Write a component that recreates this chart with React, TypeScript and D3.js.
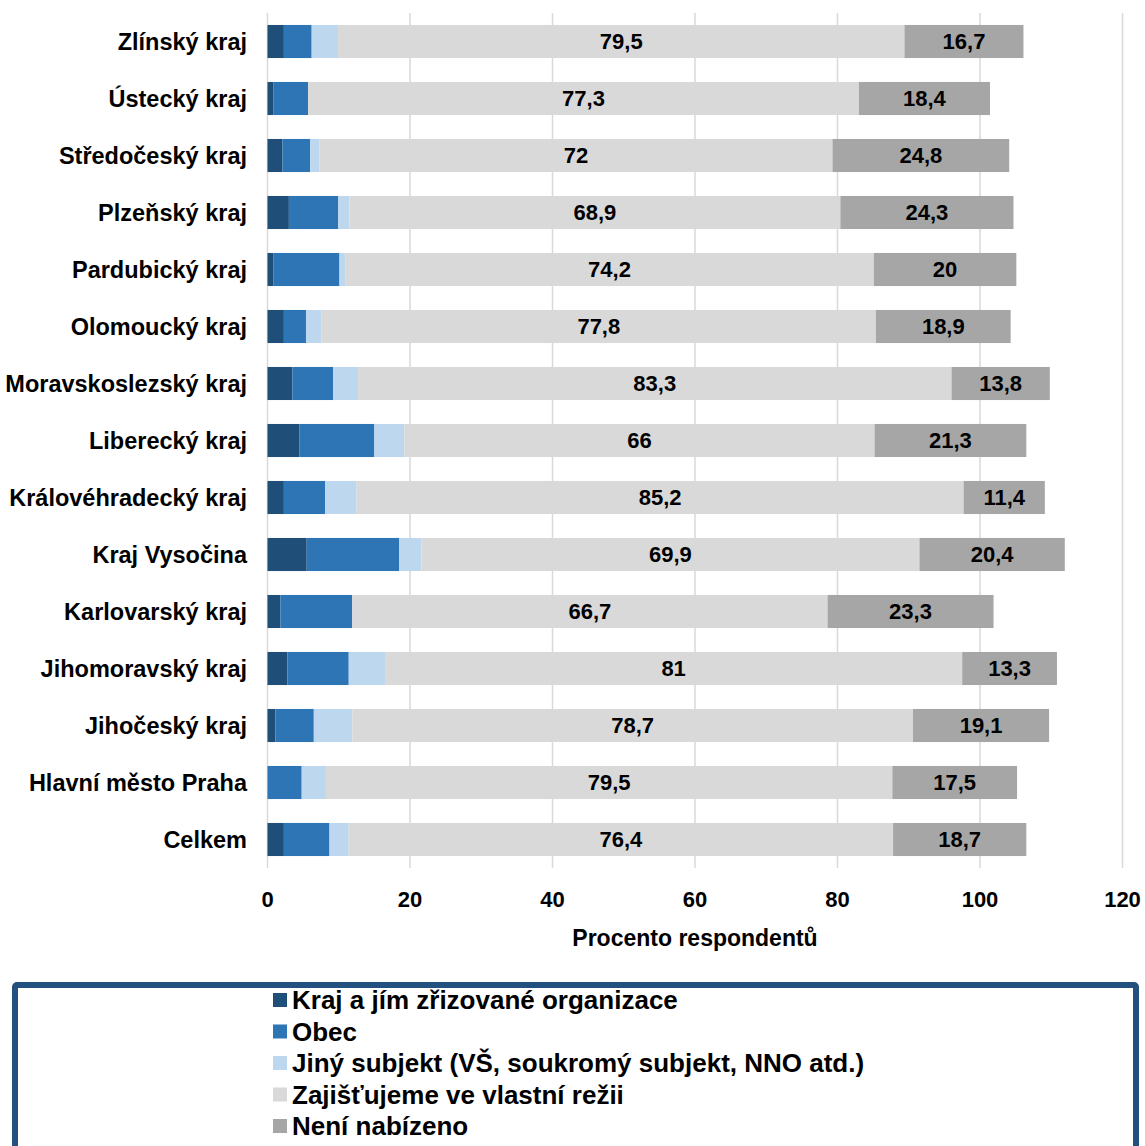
import React, {useEffect, useRef} from 'react';
import * as d3 from 'd3';

const regions = [
  'Zlínský kraj', 'Ústecký kraj', 'Středočeský kraj', 'Plzeňský kraj',
  'Pardubický kraj', 'Olomoucký kraj', 'Moravskoslezský kraj', 'Liberecký kraj',
  'Královéhradecký kraj', 'Kraj Vysočina', 'Karlovarský kraj', 'Jihomoravský kraj',
  'Jihočeský kraj', 'Hlavní město Praha', 'Celkem'
];

const seriesNames = [
  'Kraj a jím zřizované organizace',
  'Obec',
  'Jiný subjekt (VŠ, soukromý subjekt, NNO atd.)',
  'Zajišťujeme ve vlastní režii',
  'Není nabízeno'
];

const kraj = [2.3, 0.8, 2.1, 3.0, 0.8, 2.3, 3.5, 4.5, 2.3, 5.5, 1.8, 2.8, 1.1, 0, 2.3];
const obec = [3.9, 4.9, 3.9, 6.9, 9.3, 3.1, 5.7, 10.5, 5.8, 13.0, 10.1, 8.6, 5.4, 4.8, 6.4];
const jiny = [3.7, 0, 1.3, 1.6, 0.8, 2.2, 3.5, 4.2, 4.4, 3.1, 0, 5.1, 5.4, 3.4, 2.7];
const vlastni = [79.5, 77.3, 72, 68.9, 74.2, 77.8, 83.3, 66, 85.2, 69.9, 66.7, 81, 78.7, 79.5, 76.4];
const neni = [16.7, 18.4, 24.8, 24.3, 20, 18.9, 13.8, 21.3, 11.4, 20.4, 23.3, 13.3, 19.1, 17.5, 18.7];

const xTicks = [0, 20, 40, 60, 80, 100, 120];
const colors = ['#1F4E79', '#2E75B6', '#BDD7EE', '#D9D9D9', '#A6A6A6'];
const labelled = [false, false, false, true, true];

const W = 1145;
const H = 1146;
const FONT = '"Liberation Sans", Arial, sans-serif';

export default function App() {
  const ref = useRef<SVGSVGElement>(null);

  useEffect(() => {
    const svg = d3.select(ref.current);
    svg.selectAll('*').remove();

    const x = d3.scaleLinear().domain([0, 120]).range([267.5, 1122.5]);
    const y = d3.scaleBand<string>()
      .domain(regions)
      .range([13, 868])
      .paddingInner(0.42)
      .paddingOuter(0.21);

    const seriesValues = [kraj, obec, jiny, vlastni, neni];
    const rows = regions.map((r, i) => {
      const row: any = {region: r};
      seriesNames.forEach((s, k) => { row[s] = seriesValues[k][i]; });
      return row;
    });
    const stacked = d3.stack().keys(seriesNames)(rows);

    // gridlines
    svg.append('g')
      .selectAll('line')
      .data(xTicks)
      .enter().append('line')
      .attr('x1', d => x(d)).attr('x2', d => x(d))
      .attr('y1', 13).attr('y2', 868)
      .attr('stroke', '#D9D9D9')
      .attr('stroke-width', 1.5);

    stacked.forEach((layer, k) => {
      const g = svg.append('g');
      g.selectAll('rect')
        .data(layer)
        .enter().append('rect')
        .attr('x', d => x(d[0]))
        .attr('y', (d, i) => y(regions[i])!)
        .attr('width', d => Math.max(0, x(d[1]) - x(d[0])))
        .attr('height', y.bandwidth())
        .attr('fill', colors[k]);

      if (labelled[k]) {
        g.selectAll('text')
          .data(layer)
          .enter().append('text')
          .attr('x', d => (x(d[0]) + x(d[1])) / 2)
          .attr('y', (d, i) => y(regions[i])! + y.bandwidth() / 2)
          .attr('dy', '0.36em')
          .attr('text-anchor', 'middle')
          .style('font-family', FONT)
          .style('font-weight', 'bold')
          .style('font-size', '22px')
          .attr('fill', '#000')
          .text(d => String(d[1] - d[0] > 0 ? +(d[1] - d[0]).toFixed(1) : '').replace('.', ','));
      }
    });

    // category labels
    svg.append('g')
      .selectAll('text')
      .data(regions)
      .enter().append('text')
      .attr('x', 247)
      .attr('y', d => y(d)! + y.bandwidth() / 2)
      .attr('dy', '0.36em')
      .attr('text-anchor', 'end')
      .style('font-family', FONT)
      .style('font-weight', 'bold')
      .style('font-size', '23.5px')
      .text(d => d);

    // x tick labels
    svg.append('g')
      .selectAll('text')
      .data(xTicks)
      .enter().append('text')
      .attr('x', d => x(d))
      .attr('y', 899)
      .attr('dy', '0.36em')
      .attr('text-anchor', 'middle')
      .style('font-family', FONT)
      .style('font-weight', 'bold')
      .style('font-size', '22px')
      .text(d => d);

    svg.append('text')
      .attr('x', (x(0) + x(120)) / 2)
      .attr('y', 938)
      .attr('dy', '0.36em')
      .attr('text-anchor', 'middle')
      .style('font-family', FONT)
      .style('font-weight', 'bold')
      .style('font-size', '23px')
      .text('Procento respondentů');

    // legend (box runs past the bottom edge, as in the source)
    svg.append('rect')
      .attr('x', 15).attr('y', 985)
      .attr('width', 1121).attr('height', 200)
      .attr('fill', 'none')
      .attr('stroke', '#22517F')
      .attr('stroke-width', 6)
      .attr('rx', 2);

    const legend = svg.append('g');
    const item = legend.selectAll('g')
      .data(seriesNames)
      .enter().append('g')
      .attr('transform', (d, i) => `translate(273,${1000 + i * 31.5})`);
    item.append('rect')
      .attr('x', 0).attr('y', -7)
      .attr('width', 14).attr('height', 14)
      .attr('fill', (d, i) => colors[i]);
    item.append('text')
      .attr('x', 19).attr('y', 0)
      .attr('dy', '0.36em')
      .style('font-family', FONT)
      .style('font-weight', 'bold')
      .style('font-size', '26px')
      .text(d => d);
  }, []);

  return (
    <svg ref={ref} width={W} height={H}
      style={{position: 'absolute', left: 0, top: 0, background: '#fff'}} />
  );
}
